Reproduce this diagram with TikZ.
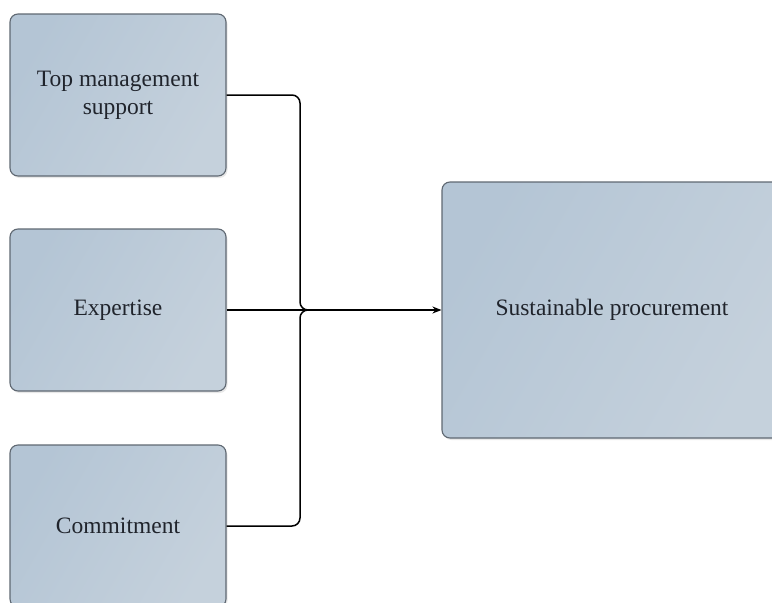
\documentclass[tikz,border=0pt]{standalone}
\usepackage{fontspec}
\setmainfont{Liberation Serif}
\usetikzlibrary{arrows.meta,shadows}
\definecolor{boxA}{RGB}{180,197,213}
\definecolor{boxB}{RGB}{197,209,220}
\definecolor{edgecol}{RGB}{95,104,114}
\definecolor{txt}{RGB}{32,36,44}
\tikzset{
  factor/.style={draw=edgecol, line width=1.1pt, rounded corners=8pt,
    shading=axis, left color=boxA, right color=boxB, shading angle=60,
    drop shadow={shadow xshift=1.5pt, shadow yshift=-2pt, opacity=0.18},
    text=txt, align=center, font=\fontsize{23.5}{28}\selectfont,
    inner sep=0pt},
  conn/.style={line width=1.5pt, draw=black},
}
\begin{document}
\begin{tikzpicture}[x=1pt,y=-1pt]
\useasboundingbox (0,0) rectangle (772,603);
\clip (0,0) rectangle (772,603);
\node[factor, minimum width=216pt, minimum height=162pt] (top) at (118,95) {Top management\\support};
\node[factor, minimum width=216pt, minimum height=162pt] (exp) at (118,310) {Expertise};
\node[factor, minimum width=216pt, minimum height=162pt] (com) at (118,526) {Commitment};
\node[factor, minimum width=340pt, minimum height=256pt] (sp) at (612,310) {Sustainable procurement};
\coordinate (j) at (300,310);
\draw[conn, rounded corners=8pt] (top.east) -| (j) -- ++(12,0);
\draw[conn, rounded corners=8pt] (com.east) -| (j) -- ++(12,0);
\draw[conn, -{Stealth[length=9pt,width=7pt]}] (exp.east) -- (sp.west);
\end{tikzpicture}
\end{document}
